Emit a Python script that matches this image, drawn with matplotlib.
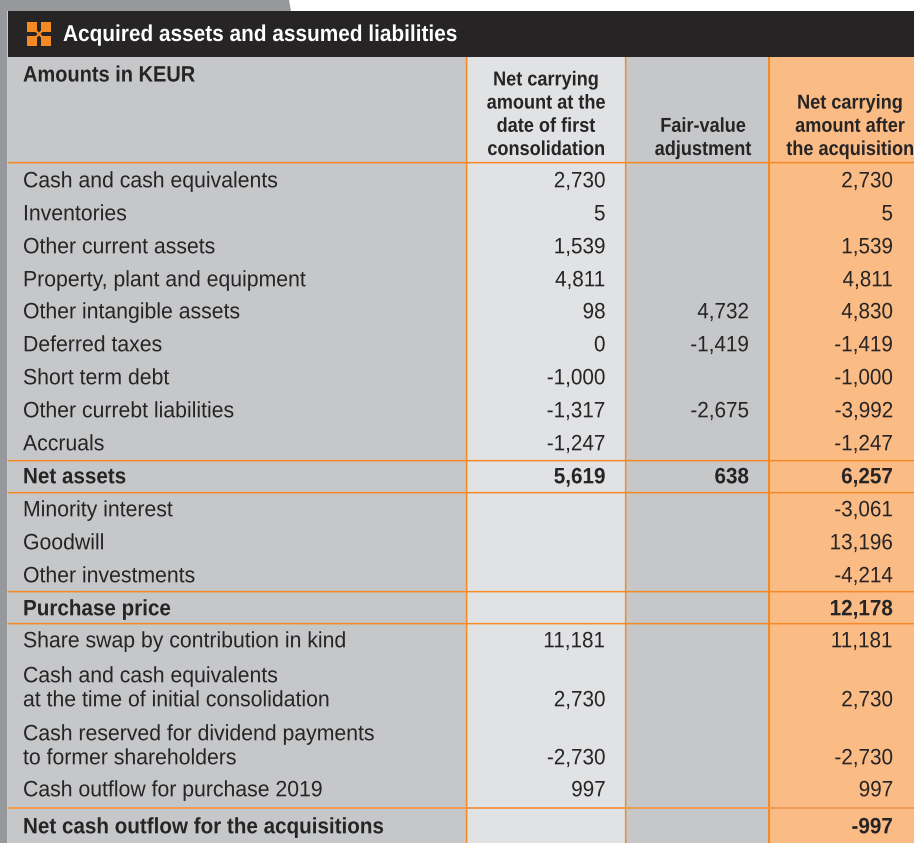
import matplotlib
matplotlib.use("Agg")
import matplotlib.pyplot as plt
from matplotlib.patches import Polygon, Rectangle
from matplotlib.patheffects import AbstractPathEffect
from matplotlib.transforms import Affine2D

title = "Acquired assets and assumed liabilities"
unit_label = "Amounts in KEUR"
col_heads = [
    "Net carrying\namount at the\ndate of first\nconsolidation",
    "Fair-value\nadjustment",
    "Net carrying\namount after\nthe acquisition",
]

labels = [
    "Cash and cash equivalents", "Inventories", "Other current assets",
    "Property, plant and equipment", "Other intangible assets", "Deferred taxes",
    "Short term debt", "Other currebt liabilities", "Accruals", "Net assets",
    "Minority interest", "Goodwill", "Other investments", "Purchase price",
    "Share swap by contribution in kind",
    "Cash and cash equivalents\nat the time of initial consolidation",
    "Cash reserved for dividend payments\nto former shareholders",
    "Cash outflow for purchase 2019",
    "Net cash outflow for the acquisitions",
]
carrying = ["2,730", "5", "1,539", "4,811", "98", "0", "-1,000", "-1,317", "-1,247", "5,619",
            "", "", "", "", "11,181", "2,730", "-2,730", "997", ""]
fair_value = ["", "", "", "", "4,732", "-1,419", "", "-2,675", "", "638",
              "", "", "", "", "", "", "", "", ""]
after = ["2,730", "5", "1,539", "4,811", "4,830", "-1,419", "-1,000", "-3,992", "-1,247", "6,257",
         "-3,061", "13,196", "-4,214", "12,178", "11,181", "2,730", "-2,730", "997", "-997"]
bold_rows = ["Net assets", "Purchase price", "Net cash outflow for the acquisitions"]

# layout, in pixels of the 914x843 picture; row_y are baselines of each row's last line
W, H = 914, 843
row_y = [187.3, 220.3, 253.3, 286.3, 318.3, 351.3, 384.3, 417.3, 450.3, 483.3, 516.3, 549.3,
         582.3, 615.3, 647.3, 706.3, 764.3, 796.3, 833.3]
rule_y = [161.9, 459.9, 491.9, 590.9, 622.9]
col_x = [465.9, 624.9, 768]
col_w = [1.5, 1.5, 2]
num_x = [605.5, 749, 893]
head_cx = [546, 703, 850]

FONT = "Liberation Sans"
DARK = "#262425"
ORANGE = "#F58A25"
GREY = "#C6C7C9"


class Squeeze(AbstractPathEffect):
    # no condensed Helvetica here, so narrow the glyphs around the text anchor
    def __init__(self, sx, x0):
        super().__init__()
        self.sx = sx
        self.x0 = x0

    def draw_path(self, renderer, gc, tpath, affine, rgbFace=None):
        squeeze = Affine2D().translate(-self.x0, 0).scale(self.sx, 1).translate(self.x0, 0)
        renderer.draw_path(gc, tpath, affine + squeeze, rgbFace)


fig = plt.figure(figsize=(W / 100, H / 100), dpi=100, facecolor="white")
ax = fig.add_axes([0, 0, 1, 1])
ax.set_xlim(0, W)
ax.set_ylim(H, 0)
ax.axis("off")


def put(x, y, s, sx=0.955, size=16, color=DARK, weight="normal", ha="left", spacing=1.19):
    t = ax.text(x, y, s, color=color, family=FONT, weight=weight, fontsize=size,
                ha=ha, va="baseline", linespacing=spacing)
    t.set_path_effects([Squeeze(sx, ax.transData.transform((x, y))[0])])


# grey page band behind the table
ax.add_patch(Polygon([(0, 0), (289, 0), (291, 11), (7.5, 11), (7.5, H), (0, H)], fc="#97989C", ec="none"))

ax.add_patch(Rectangle((7.5, 57), W - 7.5, H - 57, fc=GREY, ec="none"))
ax.add_patch(Rectangle((col_x[0], 57), col_x[1] - col_x[0], H - 57, fc="#E1E2E4", ec="none"))
ax.add_patch(Rectangle((col_x[2], 57), W - col_x[2], H - 57, fc="#FBBB85", ec="none"))
ax.add_patch(Rectangle((7.5, 11), W - 7.5, 46, fc=DARK, ec="none"))

# rules a bit over a pixel wide, like the soft lines of the scan
for x, w in zip(col_x, col_w):
    ax.add_patch(Rectangle((x, 57), w, H - 57, fc=ORANGE, ec="none", snap=False))
for y in rule_y:
    ax.add_patch(Rectangle((7.5, y), W - 7.5, 1.5, fc=ORANGE, ec="none", snap=False))
ax.add_patch(Rectangle((7.5, 807), W - 7.5, 2, fc="#EE9A50", ec="none", snap=False))

# title icon
for x0, y0 in [(27.3, 21.8), (40.7, 21.8), (27.3, 35.8), (40.7, 35.8)]:
    ax.add_patch(Rectangle((x0, y0), 10, 10, fc=ORANGE, ec="none"))
ax.plot([36, 42], [31, 37], color=ORANGE, lw=1.5)
ax.plot([36, 42], [37, 31], color=ORANGE, lw=1.5)

put(63, 41, title, sx=0.908, size=16.5, color="white", weight="bold")
put(23, 81.5, unit_label, sx=0.9, weight="bold")

for cx, head in zip(head_cx, col_heads):
    put(cx, 155, head, sx=0.9, size=14.5, weight="bold", ha="center", spacing=1.28)

for i, label in enumerate(labels):
    weight = "bold" if label in bold_rows else "normal"
    put(23, row_y[i], label, sx=0.928 if weight == "bold" else 0.955, weight=weight)
    for x, col in zip(num_x, [carrying, fair_value, after]):
        if col[i]:
            put(x, row_y[i], col[i], sx=0.93, weight=weight, ha="right")

fig.savefig("out.png", dpi=100, facecolor="white")
